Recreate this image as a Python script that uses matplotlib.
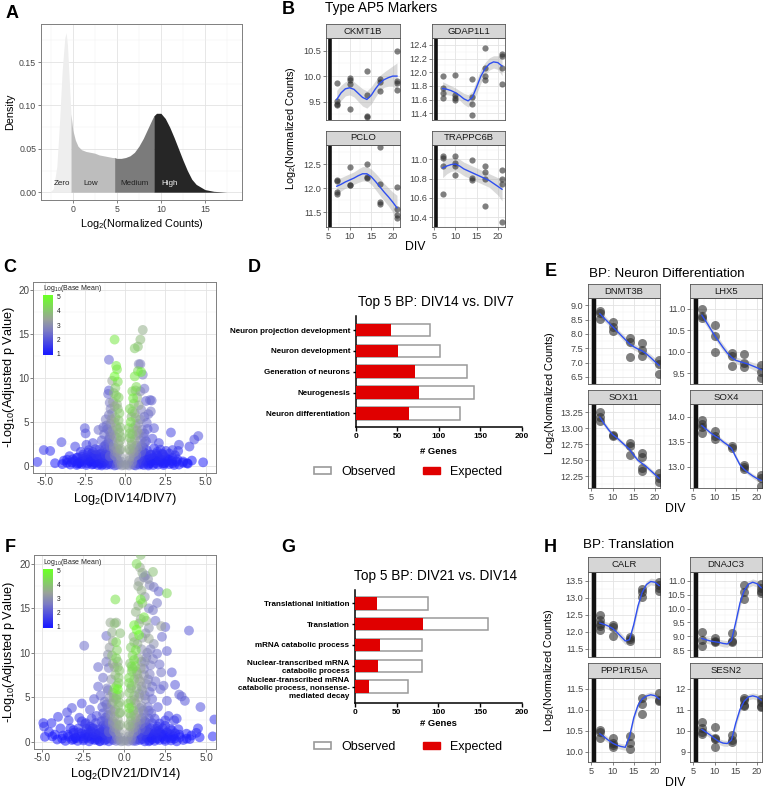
import numpy as np
import matplotlib.pyplot as plt
from matplotlib.colors import LinearSegmentedColormap
from matplotlib.patches import Patch

plt.rcParams['font.family'] = ['Liberation Sans', 'DejaVu Sans']
plt.rcParams['mathtext.default'] = 'regular'

# ---------------- data ----------------
# A: density of log2 normalized counts
dens_x = [-2.6, -2.2, -1.8, -1.5, -1.2, -0.9, -0.75, -0.6, -0.4, -0.2, 0.0, 0.3, 0.6, 1.0, 1.5, 2.0,
          2.5, 3.0, 3.5, 4.0, 4.5, 4.75, 5.0, 5.5, 6.0, 6.5, 7.0, 7.5, 8.0, 8.5, 9.0, 9.2, 9.5, 10.0,
          10.5, 11.0, 11.5, 12.0, 12.5, 13.0, 13.5, 14.0, 15.0, 16.0, 17.5]
dens_y = [0.0, 0.004, 0.03, 0.08, 0.14, 0.178, 0.184, 0.17, 0.13, 0.09, 0.072, 0.06, 0.053, 0.049,
          0.047, 0.046, 0.045, 0.043, 0.042, 0.041, 0.040, 0.040, 0.039, 0.039, 0.040, 0.042, 0.046,
          0.053, 0.062, 0.073, 0.084, 0.088, 0.091, 0.091, 0.085, 0.075, 0.063, 0.050, 0.037, 0.025,
          0.015, 0.009, 0.003, 0.001, 0.0]
bins = ['Zero', 'Low', 'Medium', 'High']
bin_edges = [-2.6, -0.2, 4.75, 9.2, 17.5]

# B / E / H: replicate values at each DIV and the smooth fit
div_days = [7, 10, 14, 17, 21]
fit_div = [7, 8, 9, 10, 11, 12, 13, 14, 15, 16, 17, 18, 19, 20, 21]

ckmt1b_obs = [[9.86, 9.51, 9.45, 9.43], [9.96, 9.92, 9.84, 9.36], [10.11, 9.62, 9.22, 9.20],
              [9.95, 9.89, 9.71], [10.5, 9.90, 9.87, 9.72]]
ckmt1b_fit = [9.54, 9.67, 9.75, 9.77, 9.74, 9.66, 9.58, 9.54, 9.62, 9.75, 9.86, 9.93, 9.97, 10.0, 10.0]
ckmt1b_se = [0.18, 0.15, 0.14, 0.14, 0.15, 0.16, 0.17, 0.17, 0.17, 0.16, 0.15, 0.15, 0.17, 0.2, 0.26]

gdap1l1_obs = [[11.95, 11.77, 11.69, 11.62], [11.96, 11.66, 11.62, 11.59], [11.90, 11.64, 11.53, 11.38],
               [12.36, 12.06, 11.95, 11.88], [12.26, 12.23, 12.06, 11.82]]
gdap1l1_fit = [11.76, 11.75, 11.73, 11.70, 11.66, 11.61, 11.58, 11.63, 11.78, 11.94, 12.05, 12.12, 12.15, 12.14, 12.09]
gdap1l1_se = [0.1, 0.08, 0.07, 0.07, 0.07, 0.08, 0.09, 0.09, 0.1, 0.1, 0.09, 0.09, 0.09, 0.1, 0.14]

pclo_obs = [[12.17, 12.15, 11.91, 11.87], [12.45, 12.07, 12.06], [12.50, 12.24, 12.21],
            [12.85, 12.08, 11.72, 11.67], [12.03, 11.56, 11.44, 11.37]]
pclo_fit = [12.04, 12.08, 12.13, 12.17, 12.21, 12.26, 12.30, 12.30, 12.24, 12.14, 12.03, 11.92, 11.82, 11.71, 11.59]
pclo_se = [0.16, 0.14, 0.13, 0.13, 0.13, 0.14, 0.15, 0.15, 0.16, 0.17, 0.18, 0.18, 0.19, 0.21, 0.26]

trappc6b_obs = [[11.03, 11.01, 10.93, 10.64], [11.03, 10.96, 10.93, 10.84], [10.99, 10.81, 10.79],
                [10.93, 10.87, 10.80, 10.52], [10.89, 10.80, 10.74, 10.35]]
trappc6b_fit = [10.91, 10.93, 10.945, 10.95, 10.93, 10.90, 10.88, 10.86, 10.84, 10.82, 10.80, 10.78, 10.75, 10.72, 10.69]
trappc6b_se = [0.1, 0.08, 0.07, 0.07, 0.07, 0.07, 0.07, 0.07, 0.07, 0.07, 0.07, 0.07, 0.08, 0.09, 0.12]

dnmt3b_obs = [[8.79, 8.72, 8.51], [8.40, 8.23, 8.10], [7.87, 7.71, 7.20], [7.68, 7.42, 7.24], [7.08, 6.94, 6.60]]
dnmt3b_fit = [8.70, 8.55, 8.40, 8.25, 8.10, 7.95, 7.80, 7.65, 7.55, 7.47, 7.40, 7.30, 7.17, 7.03, 6.90]
dnmt3b_se = [0.14, 0.11, 0.1, 0.1, 0.1, 0.1, 0.11, 0.11, 0.11, 0.1, 0.1, 0.1, 0.11, 0.13, 0.17]

lhx5_obs = [[11.0, 10.82, 10.79], [10.62, 10.37, 10.0], [9.98, 9.90, 9.68], [9.95, 9.74, 9.65], [9.70, 9.53, 9.38]]
lhx5_fit = [10.85, 10.70, 10.54, 10.38, 10.24, 10.10, 9.97, 9.87, 9.80, 9.77, 9.74, 9.71, 9.67, 9.63, 9.58]
lhx5_se = [0.11, 0.09, 0.08, 0.08, 0.08, 0.08, 0.08, 0.08, 0.08, 0.08, 0.08, 0.08, 0.08, 0.1, 0.13]

sox11_obs = [[13.25, 13.17, 13.11], [12.90, 12.88], [12.77, 12.73, 12.58], [12.61, 12.55, 12.38, 12.33],
             [12.30, 12.22, 12.16]]
sox11_fit = [13.17, 13.07, 12.98, 12.90, 12.85, 12.79, 12.73, 12.67, 12.58, 12.50, 12.45, 12.40, 12.34, 12.28, 12.22]
sox11_se = [0.05, 0.04, 0.035, 0.035, 0.035, 0.035, 0.035, 0.035, 0.035, 0.035, 0.035, 0.035, 0.035, 0.04, 0.06]

sox4_obs = [[13.93, 13.85, 13.80, 13.68], [13.72, 13.62, 13.56], [13.42, 13.38], [13.04, 13.00, 12.95],
            [12.84, 12.78, 12.62]]
sox4_fit = [13.82, 13.75, 13.68, 13.62, 13.57, 13.50, 13.44, 13.37, 13.20, 13.04, 12.95, 12.88, 12.82, 12.77, 12.73]
sox4_se = [0.06, 0.05, 0.045, 0.045, 0.045, 0.045, 0.045, 0.045, 0.045, 0.045, 0.045, 0.045, 0.045, 0.05, 0.07]

calr_obs = [[12.48, 12.33, 12.22, 12.15, 12.05], [12.18, 12.13, 11.86], [11.85, 11.78, 11.72],
            [13.24, 13.16, 13.02], [13.45, 13.36, 13.28, 13.20]]
calr_fit = [12.25, 12.21, 12.16, 12.09, 11.98, 11.85, 11.72, 11.76, 12.2, 12.75, 13.15, 13.38, 13.47, 13.45, 13.35]
calr_se = [0.12, 0.1, 0.1, 0.1, 0.1, 0.1, 0.1, 0.1, 0.12, 0.12, 0.1, 0.1, 0.1, 0.1, 0.12]

dnajc3_obs = [[9.15, 8.86, 8.65], [8.92, 8.84, 8.78], [9.10, 8.84, 8.80], [10.86, 10.58, 10.35],
              [10.88, 10.75, 10.62, 10.57]]
dnajc3_fit = [8.92, 8.87, 8.83, 8.80, 8.78, 8.74, 8.72, 8.85, 9.5, 10.2, 10.65, 10.88, 10.95, 10.9, 10.75]
dnajc3_se = [0.15, 0.12, 0.12, 0.12, 0.12, 0.12, 0.12, 0.12, 0.15, 0.15, 0.12, 0.12, 0.12, 0.12, 0.15]

ppp1r15a_obs = [[10.51, 10.46, 10.31], [10.32, 10.21, 10.15, 10.11], [10.38, 10.21, 10.05],
                [11.27, 11.14, 10.90], [11.40, 11.22, 11.20]]
ppp1r15a_fit = [10.42, 10.35, 10.27, 10.20, 10.15, 10.12, 10.10, 10.35, 10.80, 11.10, 11.25, 11.32, 11.35, 11.33, 11.25]
ppp1r15a_se = [0.08, 0.07, 0.07, 0.07, 0.07, 0.07, 0.07, 0.08, 0.09, 0.08, 0.07, 0.07, 0.07, 0.07, 0.09]

sesn2_obs = [[10.41, 10.12, 9.94, 9.84], [10.15, 9.66, 9.59, 9.22], [9.78, 9.54, 9.44],
             [11.56, 11.46, 11.21, 11.15], [11.50, 11.37, 11.19, 11.12]]
sesn2_fit = [10.05, 9.92, 9.78, 9.62, 9.48, 9.40, 9.38, 9.55, 10.35, 11.0, 11.40, 11.60, 11.65, 11.60, 11.45]
sesn2_se = [0.17, 0.14, 0.14, 0.14, 0.14, 0.14, 0.14, 0.15, 0.18, 0.16, 0.14, 0.14, 0.14, 0.15, 0.18]

# C: volcano DIV14 vs DIV7 -> (log2 fold change, -log10 padj, log10 base mean)
c_left_tail = [(-5.45, 0.45, 1.3), (-5.05, 1.8, 1.5), (-4.65, 1.7, 1.4), (-4.35, 0.3, 1.1), (-3.95, 2.7, 1.8),
               (-3.8, 0.6, 1.0), (-3.6, 0.7, 1.1), (-3.45, 1.1, 1.2), (-3.3, 0.4, 1.0), (-3.1, 2.2, 1.7),
               (-3.0, 0.9, 1.1), (-2.85, 0.3, 1.0), (-2.75, 1.6, 1.4), (-2.6, 0.8, 1.1), (-2.5, 4.3, 2.0),
               (-2.45, 3.7, 1.9), (-2.4, 2.4, 1.7), (-2.3, 1.5, 1.3), (-2.2, 0.5, 1.0), (-2.1, 1.0, 1.2),
               (-2.0, 2.6, 1.8), (-1.95, 0.2, 1.0), (-1.85, 1.9, 1.6), (-1.75, 0.7, 1.1), (-1.65, 4.1, 2.4),
               (-1.55, 1.3, 1.4), (-1.45, 2.9, 2.1), (-1.4, 0.4, 1.1), (-1.3, 3.6, 2.3), (-1.25, 1.9, 1.7),
               (-1.2, 5.3, 2.6), (-1.15, 4.6, 2.4), (-1.1, 0.8, 1.3), (-1.05, 2.6, 2.0), (-1.0, 1.4, 1.5),
               (-0.95, 3.9, 2.5)]
c_right_tail = [(4.85, 0.4, 1.2), (4.55, 3.4, 1.9), (4.3, 3.0, 1.8), (4.15, 0.6, 1.0), (4.0, 2.2, 1.6),
                (3.85, 0.3, 1.0), (3.6, 0.5, 1.1), (3.35, 2.4, 1.7), (3.3, 1.7, 1.4), (3.1, 1.2, 1.3),
                (2.95, 1.8, 1.5), (2.85, 3.8, 1.8), (2.7, 0.7, 1.1), (2.55, 1.7, 1.4), (2.45, 0.3, 1.0),
                (2.3, 1.4, 1.3), (2.1, 2.6, 1.7), (1.95, 0.6, 1.1), (1.8, 4.3, 2.1), (1.7, 3.1, 1.9),
                (1.6, 1.3, 1.3), (1.55, 7.5, 2.3), (1.65, 7.45, 2.2), (1.6, 6.2, 2.5), (1.45, 5.9, 2.4),
                (1.35, 4.9, 2.3), (1.3, 2.8, 2.0), (1.25, 1.0, 1.2), (1.2, 3.7, 2.2), (1.15, 2.1, 1.7)]
c_band = [(-3.4, 0.15, 1.0), (-3.0, 0.1, 1.0), (-2.7, 0.2, 1.0), (-2.4, 0.1, 1.1), (-2.05, 0.15, 1.0),
          (-1.7, 0.1, 1.1), (-1.4, 0.2, 1.0), (-1.15, 0.1, 1.2), (-0.9, 0.15, 1.3), (-0.65, 0.05, 1.5),
          (0.65, 0.05, 1.5), (0.9, 0.15, 1.2), (1.15, 0.1, 1.1), (1.45, 0.2, 1.0), (1.75, 0.1, 1.0),
          (2.05, 0.15, 1.1), (2.4, 0.1, 1.0), (2.75, 0.2, 1.0), (3.05, 0.1, 1.0), (3.35, 0.15, 1.0),
          (-3.15, 0.55, 1.1), (-2.8, 0.45, 1.0), (-2.5, 0.6, 1.1), (-2.15, 0.5, 1.0), (-1.85, 0.45, 1.1),
          (-1.55, 0.6, 1.2), (-1.3, 0.5, 1.1), (-1.0, 0.45, 1.3), (-0.75, 0.55, 1.6), (0.75, 0.55, 1.6),
          (1.0, 0.45, 1.3), (1.3, 0.55, 1.1), (1.6, 0.5, 1.0), (1.9, 0.6, 1.1), (2.2, 0.5, 1.0),
          (2.55, 0.45, 1.1), (2.9, 0.55, 1.0), (3.2, 0.5, 1.0), (-2.95, 0.95, 1.1), (-2.45, 0.9, 1.2),
          (-2.0, 0.85, 1.1), (-1.7, 1.0, 1.2), (-1.4, 0.9, 1.3), (-1.15, 1.0, 1.4), (-0.85, 0.9, 1.7),
          (0.85, 0.9, 1.7), (1.1, 1.0, 1.3), (1.4, 0.85, 1.2), (1.75, 0.95, 1.1), (2.1, 0.9, 1.2),
          (2.5, 1.0, 1.1), (2.95, 0.9, 1.1), (-2.6, 1.3, 1.3), (-2.1, 1.35, 1.2), (-1.8, 1.25, 1.4),
          (-1.5, 1.4, 1.3), (-1.2, 1.3, 1.6), (-0.9, 1.35, 1.8), (0.95, 1.3, 1.7), (1.3, 1.4, 1.4),
          (1.6, 1.25, 1.3), (1.95, 1.35, 1.2), (2.35, 1.3, 1.2), (2.75, 1.4, 1.1), (-2.25, 1.8, 1.4),
          (-1.6, 1.85, 1.5), (-1.3, 2.2, 1.8), (-0.85, 1.9, 2.0), (0.9, 1.85, 2.0), (1.35, 1.8, 1.6),
          (1.8, 2.0, 1.4), (2.2, 1.85, 1.3)]
c_band2 = [(-3.6, 0.35, 1.0), (-3.25, 0.75, 1.1), (-2.95, 0.25, 1.0), (-2.65, 1.05, 1.2), (-2.35, 0.3, 1.0),
           (-2.25, 0.75, 1.1), (-1.95, 1.15, 1.2), (-1.9, 0.35, 1.0), (-1.6, 0.8, 1.2), (-1.55, 0.25, 1.1),
           (-1.35, 1.1, 1.4), (-1.25, 0.7, 1.2), (-1.05, 0.25, 1.3), (-0.95, 0.7, 1.5), (-0.8, 1.15, 1.7),
           (-0.7, 0.3, 1.7), (0.7, 0.3, 1.7), (0.8, 1.15, 1.8), (0.95, 0.7, 1.5), (1.05, 0.25, 1.3),
           (1.25, 0.75, 1.2), (1.35, 1.1, 1.3), (1.55, 0.3, 1.0), (1.65, 0.8, 1.1), (1.9, 0.3, 1.0),
           (2.0, 1.15, 1.2), (2.25, 0.75, 1.1), (2.35, 0.3, 1.0), (2.65, 0.8, 1.1), (2.95, 0.3, 1.0),
           (3.25, 0.75, 1.1), (3.6, 0.35, 1.0), (-3.9, 0.2, 1.0), (3.9, 0.25, 1.0), (-2.0, 1.6, 1.3),
           (2.0, 1.6, 1.3), (-1.1, 1.65, 1.6), (1.1, 1.65, 1.6), (-1.45, 0.05, 1.1), (1.45, 0.05, 1.1)]
c_core = [(-0.5, 0.1, 2.2), (-0.35, 0.2, 2.6), (-0.2, 0.05, 3.0), (-0.05, 0.1, 3.2), (0.1, 0.15, 3.1),
          (0.25, 0.05, 2.8), (0.4, 0.2, 2.5), (0.55, 0.1, 2.0), (-0.45, 0.6, 2.5), (-0.25, 0.5, 3.0),
          (0.25, 0.6, 3.1), (0.45, 0.5, 2.6), (-0.55, 1.0, 2.6), (-0.3, 1.1, 3.2), (0.3, 1.05, 3.3),
          (0.55, 1.0, 2.7), (-0.6, 1.6, 2.8), (-0.35, 1.8, 3.3), (0.35, 1.7, 3.4), (0.6, 1.6, 2.9),
          (-0.7, 2.3, 2.9), (-0.4, 2.5, 3.5), (0.4, 2.4, 3.6), (0.7, 2.3, 3.0)]
c_left_arm = [(-0.65, 14.4, 4.6), (-1.0, 12.1, 2.2), (-0.55, 11.4, 4.7), (-0.5, 11.0, 4.5), (-0.65, 10.2, 4.9),
              (-0.8, 9.7, 3.4), (-1.0, 8.6, 2.1), (-1.05, 8.2, 2.3), (-0.6, 8.9, 4.1), (-0.55, 8.0, 4.2),
              (-0.75, 7.3, 3.2), (-0.5, 7.0, 3.7), (-0.95, 7.2, 2.6), (-0.45, 6.5, 3.8), (-0.8, 6.0, 2.9),
              (-0.6, 5.5, 3.5), (-0.4, 5.2, 4.0), (-0.9, 4.8, 2.8), (-0.55, 4.5, 3.5), (-0.75, 4.0, 3.0),
              (-0.35, 3.8, 3.8), (-0.95, 3.3, 2.4), (-0.5, 3.2, 3.3), (-0.8, 2.9, 2.6), (-0.3, 2.9, 3.7),
              (-0.65, 6.8, 3.4), (-0.85, 5.3, 3.1), (-0.45, 4.2, 3.6)]
c_right_arm = [(1.1, 15.5, 3.6), (0.95, 14.4, 3.8), (0.6, 13.4, 4.1), (0.8, 13.6, 3.9), (0.85, 11.6, 2.8),
               (0.95, 11.6, 2.6), (0.8, 10.8, 4.3), (1.0, 10.7, 4.8), (1.1, 10.4, 2.6), (0.7, 9.0, 4.4),
               (0.65, 8.6, 3.9), (0.95, 8.5, 2.8), (1.3, 7.4, 2.2), (0.5, 7.7, 4.7), (0.55, 7.1, 4.0),
               (0.85, 6.9, 3.5), (1.0, 6.4, 2.7), (0.45, 6.2, 4.0), (0.65, 5.5, 3.7), (1.2, 5.6, 2.4),
               (0.35, 5.0, 4.5), (0.8, 4.8, 3.0), (0.5, 4.3, 3.6), (1.05, 4.1, 2.5), (0.3, 3.7, 4.1),
               (0.7, 3.5, 3.1), (0.4, 2.8, 3.7), (0.95, 2.9, 2.6), (0.6, 6.0, 3.3), (0.75, 4.0, 3.4)]
c_arm_fill = [(-1.2, 2.4, 2.0), (-1.0, 3.0, 2.3), (-0.9, 2.2, 2.4), (-1.1, 4.2, 2.3), (-0.85, 3.6, 2.7),
              (-0.65, 3.4, 3.1), (-0.7, 2.0, 2.9), (-0.5, 2.0, 3.2), (-0.25, 1.9, 3.6), (-0.45, 1.5, 3.1),
              (-0.65, 1.2, 2.7), (-0.95, 1.1, 2.2), (-0.3, 4.4, 3.9), (-0.65, 5.0, 3.3), (-1.0, 5.8, 2.6),
              (-0.35, 6.0, 4.1), (-0.25, 3.3, 3.9), (0.25, 1.9, 3.7), (0.5, 2.0, 3.2), (0.75, 2.0, 2.9),
              (1.0, 2.3, 2.5), (1.2, 2.6, 2.3), (0.5, 1.5, 3.1), (0.7, 1.2, 2.7), (1.0, 1.6, 2.2),
              (0.3, 3.2, 4.0), (0.6, 3.0, 3.4), (0.85, 3.7, 2.9), (1.15, 3.3, 2.3), (0.45, 3.6, 3.8),
              (0.25, 4.3, 4.2), (0.65, 4.6, 3.3), (0.95, 5.3, 2.8), (0.4, 5.6, 3.8), (0.3, 6.5, 4.3),
              (0.75, 7.8, 3.7), (0.45, 8.5, 4.3), (0.6, 10.2, 4.6), (1.2, 8.8, 2.4), (-0.4, 7.8, 4.2),
              (-0.7, 8.3, 3.6), (-0.45, 9.6, 4.4), (-0.9, 6.5, 2.7), (1.4, 4.2, 2.1), (-1.35, 4.4, 2.2)]

# F: volcano DIV21 vs DIV14
f_left_tail = [(-4.95, 2.1, 1.3), (-4.9, 1.7, 1.4), (-4.85, 0.55, 1.1), (-4.6, 1.1, 1.2), (-4.45, 2.1, 1.3),
               (-4.25, 0.8, 1.0), (-4.05, 2.8, 1.5), (-3.9, 1.5, 1.2), (-3.75, 0.7, 1.0), (-3.5, 3.3, 1.7),
               (-3.4, 2.4, 1.5), (-3.2, 3.8, 1.9), (-3.1, 1.3, 1.2), (-2.95, 0.4, 1.0), (-2.75, 2.7, 1.6),
               (-2.6, 4.3, 1.8), (-2.45, 10.8, 2.4), (-2.35, 2.1, 1.4), (-2.2, 0.6, 1.0), (-2.1, 3.6, 1.9),
               (-1.95, 1.5, 1.3), (-1.85, 4.8, 2.1), (-1.7, 2.9, 1.8), (-1.55, 0.9, 1.2), (-1.45, 5.2, 2.3),
               (-1.35, 3.9, 2.1), (-1.3, 1.8, 1.6), (-1.2, 4.5, 2.4), (-1.1, 11.9, 2.4), (-1.0, 9.8, 3.0),
               (-0.95, 8.3, 2.6), (-1.05, 6.0, 2.6), (-1.15, 2.7, 1.9)]
f_right_tail = [(5.4, 0.6, 1.2), (5.5, 2.5, 1.5), (4.65, 3.9, 1.9), (4.5, 1.5, 1.3), (4.4, 1.0, 1.1),
                (4.1, 0.7, 1.0), (3.95, 12.5, 2.1), (3.8, 0.9, 1.1), (3.7, 4.6, 2.0), (3.5, 5.1, 2.2),
                (3.35, 5.3, 2.2), (3.2, 2.6, 1.6), (3.05, 2.4, 1.6), (2.9, 1.3, 1.3), (2.85, 0.4, 1.0),
                (2.7, 2.9, 1.7), (2.6, 4.6, 2.1), (2.5, 1.8, 1.4), (2.4, 6.3, 2.3), (2.3, 0.8, 1.1),
                (2.25, 7.8, 2.5), (2.2, 5.9, 2.2), (2.15, 8.7, 2.4), (2.05, 3.9, 2.0), (1.95, 1.2, 1.3),
                (1.9, 6.8, 2.4), (1.85, 2.6, 1.7), (1.75, 9.3, 2.6), (1.7, 4.8, 2.2), (1.6, 0.5, 1.1),
                (1.55, 7.6, 2.6), (1.5, 3.5, 2.1), (1.4, 1.6, 1.5)]
f_band = [(-3.6, 0.1, 1.0), (-3.2, 0.2, 1.0), (-2.85, 0.1, 1.1), (-2.5, 0.15, 1.0), (-2.15, 0.05, 1.1),
          (-1.8, 0.2, 1.0), (-1.5, 0.1, 1.2), (-1.2, 0.15, 1.1), (-0.95, 0.05, 1.3), (-0.7, 0.2, 1.6),
          (0.7, 0.1, 1.5), (0.95, 0.2, 1.3), (1.25, 0.05, 1.1), (1.55, 0.15, 1.0), (1.85, 0.1, 1.1),
          (2.15, 0.2, 1.0), (2.5, 0.1, 1.0), (2.85, 0.15, 1.1), (3.2, 0.05, 1.0), (3.6, 0.2, 1.0),
          (-3.4, 0.55, 1.1), (-3.0, 0.5, 1.0), (-2.65, 0.6, 1.1), (-2.3, 0.45, 1.2), (-1.95, 0.55, 1.1),
          (-1.65, 0.5, 1.2), (-1.35, 0.6, 1.2), (-1.05, 0.5, 1.4), (-0.8, 0.6, 1.7), (0.8, 0.55, 1.7),
          (1.05, 0.6, 1.4), (1.35, 0.5, 1.2), (1.65, 0.6, 1.1), (1.95, 0.5, 1.2), (2.3, 0.55, 1.0),
          (2.65, 0.5, 1.1), (3.0, 0.6, 1.0), (3.4, 0.5, 1.1), (-3.1, 1.0, 1.2), (-2.6, 0.95, 1.1),
          (-2.2, 1.05, 1.2), (-1.85, 0.95, 1.3), (-1.5, 1.0, 1.3), (-1.2, 0.95, 1.5), (-0.9, 1.05, 1.8),
          (0.9, 1.0, 1.8), (1.2, 0.95, 1.5), (1.5, 1.05, 1.3), (1.85, 0.95, 1.2), (2.2, 1.0, 1.2),
          (2.6, 1.05, 1.1), (3.1, 0.95, 1.1), (-2.8, 1.5, 1.3), (-2.3, 1.45, 1.3), (-1.9, 1.55, 1.4),
          (-1.55, 1.4, 1.4), (-1.25, 1.5, 1.6), (-0.95, 1.45, 1.9), (0.95, 1.5, 1.9), (1.25, 1.45, 1.6),
          (1.6, 1.55, 1.4), (1.95, 1.45, 1.3), (2.35, 1.5, 1.2), (2.8, 1.45, 1.2), (-2.4, 2.0, 1.5),
          (-1.75, 2.1, 1.6), (-1.4, 2.3, 1.8), (-0.95, 2.1, 2.1), (0.95, 2.0, 2.1), (1.3, 2.2, 1.8),
          (1.7, 2.1, 1.6), (2.15, 2.05, 1.4), (-2.0, 2.6, 1.7), (1.1, 2.7, 2.0)]
f_band2 = [(-3.8, 0.35, 1.0), (-3.45, 0.8, 1.1), (-3.1, 0.3, 1.0), (-2.8, 1.05, 1.2), (-2.5, 0.35, 1.0),
           (-2.4, 0.8, 1.1), (-2.05, 1.2, 1.2), (-2.0, 0.3, 1.0), (-1.7, 0.8, 1.2), (-1.65, 0.25, 1.1),
           (-1.4, 1.15, 1.4), (-1.3, 0.75, 1.2), (-1.1, 0.3, 1.3), (-1.0, 0.75, 1.5), (-0.85, 1.2, 1.7),
           (-0.75, 0.35, 1.7), (0.75, 0.3, 1.7), (0.85, 1.2, 1.8), (1.0, 0.75, 1.5), (1.1, 0.3, 1.3),
           (1.3, 0.8, 1.2), (1.4, 1.15, 1.3), (1.7, 0.3, 1.0), (1.75, 0.8, 1.1), (2.0, 0.35, 1.0),
           (2.1, 1.2, 1.2), (2.4, 0.8, 1.1), (2.45, 0.3, 1.0), (2.8, 0.85, 1.1), (3.05, 0.35, 1.0),
           (3.35, 0.8, 1.1), (3.8, 0.35, 1.0), (-4.1, 0.25, 1.0), (4.0, 0.3, 1.0), (-2.1, 1.7, 1.3),
           (2.05, 1.7, 1.3), (-1.15, 1.75, 1.6), (1.15, 1.75, 1.6), (-1.5, 0.05, 1.1), (1.5, 0.05, 1.1),
           (-4.4, 0.6, 1.0), (4.6, 0.5, 1.0), (-3.3, 1.5, 1.2), (3.3, 1.4, 1.2), (-2.6, 2.3, 1.4),
           (2.5, 2.4, 1.4)]
f_core = [(-0.5, 0.1, 2.3), (-0.35, 0.2, 2.7), (-0.2, 0.05, 3.0), (-0.05, 0.1, 3.2), (0.1, 0.15, 3.1),
          (0.25, 0.05, 2.8), (0.4, 0.2, 2.6), (0.55, 0.1, 2.1), (-0.45, 0.6, 2.6), (-0.25, 0.5, 3.1),
          (0.25, 0.6, 3.1), (0.45, 0.5, 2.7), (-0.55, 1.0, 2.7), (-0.3, 1.1, 3.3), (0.3, 1.05, 3.3),
          (0.55, 1.0, 2.8), (-0.6, 1.6, 2.9), (-0.35, 1.8, 3.4), (0.35, 1.7, 3.5), (0.6, 1.6, 3.0),
          (-0.7, 2.3, 3.0), (-0.4, 2.5, 3.5), (0.4, 2.4, 3.6), (0.7, 2.3, 3.1)]
f_left_arm = [(-0.55, 16.0, 4.5), (-0.5, 13.4, 3.6), (-0.6, 13.3, 3.9), (-0.75, 12.3, 3.6), (-0.7, 11.3, 3.4),
              (-0.5, 11.2, 4.4), (-0.9, 10.6, 3.3), (-0.75, 9.7, 3.8), (-0.5, 9.4, 4.3), (-0.4, 9.0, 3.6),
              (-0.6, 8.4, 3.4), (-0.4, 8.4, 3.9), (-0.55, 7.5, 3.7), (-0.35, 7.2, 4.0), (-0.8, 7.0, 3.1),
              (-0.45, 6.3, 4.2), (-0.4, 5.9, 5.0), (-0.6, 6.0, 4.4), (-0.7, 5.5, 3.5), (-0.3, 5.3, 3.8),
              (-0.9, 5.0, 2.9), (-0.5, 4.8, 3.7), (-0.75, 4.3, 3.2), (-0.35, 4.1, 3.9), (-1.0, 3.8, 2.6),
              (-0.55, 3.6, 3.4), (-0.3, 3.2, 3.7), (-0.85, 3.0, 2.9), (-0.6, 2.8, 3.3), (-0.45, 5.2, 4.1),
              (-0.65, 4.6, 3.6)]
f_right_arm = [(1.0, 21.0, 3.9), (0.75, 20.0, 4.4), (1.1, 19.0, 3.6), (1.75, 19.1, 3.9), (1.3, 18.7, 2.8),
               (1.45, 18.3, 3.1), (1.2, 18.5, 2.6), (0.85, 17.5, 3.5), (0.9, 18.0, 3.3), (1.8, 17.4, 2.5),
               (1.05, 17.0, 3.6), (2.1, 16.9, 2.3), (2.6, 16.7, 4.3), (1.0, 16.0, 4.7), (1.1, 15.6, 4.0),
               (0.85, 15.3, 3.6), (1.5, 15.0, 2.6), (1.75, 14.8, 2.5), (1.2, 14.0, 4.6), (1.35, 13.6, 3.6),
               (1.9, 13.6, 2.4), (2.25, 13.0, 3.4), (2.5, 12.9, 2.2), (0.6, 13.1, 4.7), (0.75, 12.6, 5.0),
               (0.9, 12.0, 4.8), (1.1, 11.7, 3.2), (1.5, 11.6, 3.5), (1.8, 11.0, 3.0), (0.6, 11.2, 3.9),
               (0.4, 10.6, 4.1), (0.7, 10.3, 4.6), (1.05, 10.4, 3.0), (1.4, 10.0, 2.8), (2.0, 9.9, 2.4),
               (0.5, 9.7, 4.2), (0.85, 9.4, 3.5), (1.25, 9.0, 3.0), (0.35, 8.8, 3.9), (0.65, 8.5, 4.3),
               (1.0, 8.3, 3.4), (1.6, 8.6, 2.6), (0.45, 7.9, 4.0), (0.8, 7.6, 3.5), (1.2, 7.5, 3.1),
               (0.3, 7.2, 4.4), (0.6, 7.0, 3.8), (0.95, 6.8, 3.4), (1.35, 6.5, 2.9), (0.45, 6.3, 3.9),
               (0.75, 6.0, 3.6), (1.1, 5.8, 3.2), (0.3, 5.5, 4.0), (0.6, 5.2, 3.7), (0.9, 5.0, 3.3),
               (1.3, 4.8, 2.8), (0.4, 4.6, 3.8), (0.7, 4.3, 3.4), (1.05, 4.0, 3.0), (0.3, 3.8, 4.6),
               (0.55, 3.5, 3.8), (0.85, 3.3, 3.2), (1.2, 3.1, 2.7), (0.4, 2.9, 3.9), (0.7, 2.7, 3.4),
               (1.0, 2.5, 2.9), (0.5, 8.2, 4.4), (0.55, 11.8, 3.7), (0.9, 13.3, 3.8), (1.5, 12.8, 3.0)]
f_arm_fill = [(-1.2, 2.4, 2.0), (-1.0, 3.0, 2.3), (-0.9, 2.2, 2.4), (-1.1, 4.2, 2.3), (-0.85, 3.6, 2.7),
              (-0.65, 3.4, 3.1), (-0.7, 2.0, 2.9), (-0.5, 2.0, 3.2), (-0.25, 1.9, 3.6), (-0.45, 1.5, 3.1),
              (-0.65, 1.2, 2.7), (-0.95, 1.1, 2.2), (-0.3, 4.4, 3.9), (-0.65, 5.0, 3.3), (-1.0, 5.8, 2.6),
              (-0.35, 6.6, 4.1), (-0.25, 3.3, 3.9), (-0.45, 10.3, 4.2), (-0.7, 8.8, 3.5), (0.25, 1.9, 3.7),
              (0.5, 2.0, 3.2), (0.75, 2.0, 2.9), (1.0, 2.0, 2.5), (1.25, 2.3, 2.3), (1.5, 2.6, 2.1),
              (0.5, 1.5, 3.1), (0.7, 1.2, 2.7), (1.0, 1.5, 2.2), (1.3, 1.3, 1.9), (0.3, 3.2, 4.0),
              (0.6, 3.0, 3.4), (0.95, 3.8, 2.9), (1.15, 3.5, 2.6), (1.45, 3.9, 2.4), (1.65, 3.2, 2.2),
              (0.45, 3.9, 3.8), (0.25, 4.3, 4.2), (0.6, 4.7, 3.3), (0.9, 5.4, 2.8), (1.25, 5.2, 2.6),
              (1.55, 5.6, 2.4), (0.4, 6.0, 3.8), (0.3, 6.6, 4.3), (0.75, 7.9, 3.7), (0.45, 8.5, 4.3),
              (0.6, 9.2, 4.6), (1.2, 8.2, 2.6), (1.45, 7.0, 2.7), (1.7, 6.2, 2.4), (1.05, 6.2, 3.0),
              (0.85, 7.1, 3.3), (1.05, 9.0, 2.9), (1.35, 9.5, 2.7), (1.6, 10.4, 2.6), (0.8, 11.0, 3.6),
              (1.3, 12.2, 3.0), (1.0, 13.8, 3.4), (0.7, 14.6, 3.7), (1.25, 16.3, 3.1), (0.95, 19.6, 3.5),
              (1.55, 17.6, 2.8), (2.0, 15.6, 2.5), (2.3, 11.8, 2.3), (2.6, 10.2, 2.2), (2.9, 7.8, 2.1),
              (3.1, 6.4, 2.0), (-1.3, 7.2, 2.4), (-1.6, 8.4, 2.3), (-1.1, 9.0, 2.5), (-1.3, 3.2, 2.1),
              (-1.6, 6.2, 2.2), (-0.3, 8.0, 4.0), (-0.25, 12.2, 3.9), (-0.85, 13.4, 3.5)]

# D / G: GO enrichment
d_terms = ['Neuron projection development', 'Neuron development', 'Generation of neurons',
           'Neurogenesis', 'Neuron differentiation']
d_observed = [89, 101, 134, 142, 126]
d_expected = [43, 51, 71, 76, 64]
g_terms = ['Translational initiation', 'Translation', 'mRNA catabolic process',
           'Nuclear-transcribed mRNA\ncatabolic process',
           'Nuclear-transcribed mRNA\ncatabolic process, nonsense-\nmediated decay']
g_observed = [88, 159, 80, 80, 64]
g_expected = [26, 82, 30, 28, 17]

# ---------------- layout helpers ----------------
W, H = 768, 792
fig = plt.figure(figsize=(W / 100, H / 100), dpi=100)


def box(l, t, r, b):
    return [l / W, 1 - b / H, (r - l) / W, (b - t) / H]


def ftext(x, y, s, **kw):
    fig.text(x / W, 1 - y / H, s, **kw)


def gg_axes(ax):
    ax.set_axisbelow(True)
    ax.grid(which='major', color='#e3e3e3', lw=0.6)
    ax.grid(which='minor', color='#f0f0f0', lw=0.35)
    for s in ax.spines.values():
        s.set_color('#7f7f7f')
        s.set_linewidth(0.7)
    ax.tick_params(which='both', color='#4d4d4d', labelcolor='#444444', width=0.5, length=2, pad=1.5)
    ax.tick_params(which='minor', length=0)


for letter, x, y in [('A', 12, 14), ('B', 288, 10), ('C', 10, 268), ('D', 254, 268), ('E', 551, 272),
                     ('F', 10, 547), ('G', 288, 547), ('H', 550, 547)]:
    ftext(x, y, letter, fontsize=13, fontweight='bold', ha='center', va='center')

# ---------------- A ----------------
ax = fig.add_axes(box(41, 24, 242, 200))
dx, dy = np.array(dens_x), np.array(dens_y)
for lo, hi, col in zip(bin_edges[:-1], bin_edges[1:], ['#eeeeee', '#bdbdbd', '#7b7b7b', '#262626']):
    m = (dx >= lo) & (dx <= hi)
    ax.fill_between(dx[m], 0, dy[m], color=col, lw=0, zorder=2)
ax.set_xlim(-3.6, 19.2)
ax.set_ylim(-0.009, 0.194)
ax.set_xticks([0, 5, 10, 15])
ax.set_xticks([-2.5, 2.5, 7.5, 12.5, 17.5], minor=True)
ax.set_yticks([0, 0.05, 0.10, 0.15], ['0.00', '0.05', '0.10', '0.15'])
ax.set_yticks([0.025, 0.075, 0.125, 0.175], minor=True)
gg_axes(ax)
ax.tick_params(labelsize=6.3)
ax.set_xlabel('Log$_2$(Normalized Counts)', fontsize=7.8, labelpad=2)
ax.set_ylabel('Density', fontsize=7.8, labelpad=3)
for name, xc, col in zip(bins, [-1.2, 2.05, 7.0, 11.0], ['#222222', '#222222', '#222222', '#f2f2f2']):
    ax.text(xc, 0.0095, name, ha='center', va='center', fontsize=5.8, color=col, zorder=3)

# ---------------- facets ----------------


def facet(l, r, st, pt, pb, name, obs, fit, se, ylim, yticks, ylabels, xlim, psize, barw, show_x):
    ax = fig.add_axes(box(l, pt, r, pb))
    ax.set_xlim(*xlim)
    ax.set_ylim(*ylim)
    ax.set_xticks([5, 10, 15, 20])
    ax.set_xticks([7.5, 12.5, 17.5], minor=True)
    ax.set_yticks(yticks, ylabels)
    step = yticks[1] - yticks[0]
    ax.set_yticks([t - step / 2 for t in yticks] + [yticks[-1] + step / 2], minor=True)
    gg_axes(ax)
    for s in ax.spines.values():
        s.set_color('#555555')
        s.set_linewidth(0.6)
    ax.tick_params(labelsize=6.6)
    ax.axvline(5.5, color='#111111', lw=barw, zorder=1.5)
    f, e = np.array(fit), np.array(se)
    ax.fill_between(fit_div, f - e, f + e, color='#a8a8a8', alpha=0.42, lw=0, zorder=2)
    for d, vals in zip(div_days, obs):
        ax.scatter([d] * len(vals), vals, s=psize, color='#2b2b2b', alpha=0.6, lw=0, zorder=3)
    ax.plot(fit_div, fit, color='#2f4ff0', lw=1.0, zorder=4)
    if not show_x:
        ax.tick_params(axis='x', labelbottom=False, length=0)
    sx = fig.add_axes(box(l, st, r, pt))
    sx.set_facecolor('#d6d6d6')
    sx.set_xticks([])
    sx.set_yticks([])
    for s in sx.spines.values():
        s.set_color('#555555')
        s.set_linewidth(0.6)
    sx.text(0.5, 0.5, name, ha='center', va='center', fontsize=6.8, color='#1a1a1a', transform=sx.transAxes)
    return ax


def fmt(ticks, nd):
    return [f'{t:.{nd}f}' for t in ticks]


# B
bl, br = (326, 400), (432, 505)
facet(*bl, 24, 38, 120, 'CKMT1B', ckmt1b_obs, ckmt1b_fit, ckmt1b_se, (9.136, 10.58),
      [9.5, 10.0, 10.5], fmt([9.5, 10.0, 10.5], 1), (4.5, 21.7), 20, 2.6, False)
facet(*br, 24, 38, 120, 'GDAP1L1', gdap1l1_obs, gdap1l1_fit, gdap1l1_se, (11.357, 12.417),
      [11.4, 11.6, 11.8, 12.0, 12.2, 12.4], fmt([11.4, 11.6, 11.8, 12.0, 12.2, 12.4], 1), (4.5, 21.7), 20, 2.6, False)
facet(*bl, 131, 145, 227, 'PCLO', pclo_obs, pclo_fit, pclo_se, (11.19, 12.9),
      [11.5, 12.0, 12.5], fmt([11.5, 12.0, 12.5], 1), (4.5, 21.7), 20, 2.6, True)
facet(*br, 131, 145, 227, 'TRAPPC6B', trappc6b_obs, trappc6b_fit, trappc6b_se, (10.30, 11.147),
      [10.4, 10.6, 10.8, 11.0], fmt([10.4, 10.6, 10.8, 11.0], 1), (4.5, 21.7), 20, 2.6, True)
ftext(325, 8, 'Type AP5 Markers', fontsize=9.9, ha='left', va='center')
ftext(291, 128, 'Log$_2$(Normalized Counts)', fontsize=7.8, rotation=90, ha='center', va='center')
ftext(415, 247, 'DIV', fontsize=8.8, ha='center', va='center')

# E
el, er = (588, 660), (690, 762)
facet(*el, 284, 298, 384, 'DNMT3B', dnmt3b_obs, dnmt3b_fit, dnmt3b_se, (6.46, 9.1),
      [6.5, 7.0, 7.5, 8.0, 8.5, 9.0], fmt([6.5, 7.0, 7.5, 8.0, 8.5, 9.0], 1), (4.2, 21.2), 42, 3.2, False)
facet(*er, 284, 298, 384, 'LHX5', lhx5_obs, lhx5_fit, lhx5_se, (9.31, 11.19),
      [9.5, 10.0, 10.5, 11.0], fmt([9.5, 10.0, 10.5, 11.0], 1), (4.2, 21.2), 42, 3.2, False)
facet(*el, 390, 404, 488, 'SOX11', sox11_obs, sox11_fit, sox11_se, (12.07, 13.35),
      [12.25, 12.5, 12.75, 13.0, 13.25], fmt([12.25, 12.5, 12.75, 13.0, 13.25], 2), (4.2, 21.2), 42, 3.2, True)
facet(*er, 390, 404, 488, 'SOX4', sox4_obs, sox4_fit, sox4_se, (12.58, 14.03),
      [13.0, 13.5, 14.0], fmt([13.0, 13.5, 14.0], 1), (4.2, 21.2), 42, 3.2, True)
ftext(589, 274, 'BP: Neuron Differentiation', fontsize=9.6, ha='left', va='center')
ftext(550, 393, 'Log$_2$(Normalized Counts)', fontsize=7.8, rotation=90, ha='center', va='center')
ftext(675, 509, 'DIV', fontsize=8.8, ha='center', va='center')

# H
facet(*el, 557, 572, 657, 'CALR', calr_obs, calr_fit, calr_se, (11.48, 13.72),
      [11.5, 12.0, 12.5, 13.0, 13.5], fmt([11.5, 12.0, 12.5, 13.0, 13.5], 1), (4.2, 21.2), 42, 3.2, False)
facet(*er, 557, 572, 657, 'DNAJC3', dnajc3_obs, dnajc3_fit, dnajc3_se, (8.48, 11.32),
      [8.5, 9.0, 9.5, 10.0, 10.5, 11.0], fmt([8.5, 9.0, 9.5, 10.0, 10.5, 11.0], 1), (4.2, 21.2), 42, 3.2, False)
facet(*el, 663, 678, 762, 'PPP1R15A', ppp1r15a_obs, ppp1r15a_fit, ppp1r15a_se, (9.95, 11.6),
      [10.0, 10.5, 11.0, 11.5], fmt([10.0, 10.5, 11.0, 11.5], 1), (4.2, 21.2), 42, 3.2, True)
facet(*er, 663, 678, 762, 'SESN2', sesn2_obs, sesn2_fit, sesn2_se, (9.0, 12.12),
      [9, 10, 11, 12], fmt([9, 10, 11, 12], 0), (4.2, 21.2), 42, 3.2, True)
ftext(583, 545, 'BP: Translation', fontsize=9.6, ha='left', va='center')
ftext(549, 670, 'Log$_2$(Normalized Counts)', fontsize=7.8, rotation=90, ha='center', va='center')
ftext(675, 783, 'DIV', fontsize=8.8, ha='center', va='center')

# ---------------- volcanoes ----------------
volc_cmap = LinearSegmentedColormap.from_list(
    'volc', [(0.0, '#1c1cff'), (0.4, '#7c7cc4'), (0.6, '#9aa39a'), (1.0, '#6dff2a')])


def volcano(rect, groups, xlim, xlabel, xlab_y, ylab_y, cb):
    ax = fig.add_axes(box(*rect))
    pts = np.array([p for g in groups for p in g])
    pts = pts[np.argsort(pts[:, 2], kind='stable')]
    ax.scatter(pts[:, 0], pts[:, 1], c=pts[:, 2], cmap=volc_cmap, vmin=1, vmax=5, s=50, alpha=0.55,
               lw=0, zorder=3)
    ax.set_xlim(*xlim)
    ax.set_ylim(-0.85, 21.0)
    ax.set_xticks([-5, -2.5, 0, 2.5, 5], ['-5.0', '-2.5', '0.0', '2.5', '5.0'])
    ax.set_xticks([-3.75, -1.25, 1.25, 3.75], minor=True)
    ax.set_yticks([0, 5, 10, 15, 20])
    ax.set_yticks([2.5, 7.5, 12.5, 17.5], minor=True)
    gg_axes(ax)
    ax.tick_params(labelsize=7.1, pad=1)
    ftext((rect[0] + rect[2]) / 2, xlab_y, xlabel, fontsize=9.2, ha='center', va='center')
    ftext(9, ylab_y, '-Log$_{10}$(Adjusted p Value)', fontsize=9.2, rotation=90, ha='center', va='center')
    cl, ct, cr, cbt = cb
    ftext(cl, ct - 6, 'Log$_{10}$(Base Mean)', fontsize=5.0, ha='left', va='center', color='#222222')
    cax = fig.add_axes(box(cl, ct, cr, cbt))
    cax.imshow(np.linspace(5.1, 0.9, 120)[:, None], aspect='auto', cmap=volc_cmap, vmin=1, vmax=5,
               extent=[0, 1, 0.9, 5.1])
    cax.set_xticks([])
    cax.yaxis.tick_right()
    cax.set_yticks([1, 2, 3, 4, 5])
    cax.tick_params(axis='y', labelsize=4.8, length=1.5, width=0.4, pad=1, color='white', labelcolor='#222222')
    for s in cax.spines.values():
        s.set_visible(False)


volcano((33.3, 281.7, 216, 473.3),
        [c_band, c_band2, c_left_tail, c_right_tail, c_core, c_arm_fill, c_left_arm, c_right_arm],
        (-5.7, 5.65), 'Log$_2$(DIV14/DIV7)', 499, 377, (43, 295, 53, 355))
volcano((34.3, 555, 216, 749.3),
        [f_band, f_band2, f_left_tail, f_right_tail, f_core, f_arm_fill, f_left_arm, f_right_arm],
        (-5.5, 5.6), 'Log$_2$(DIV21/DIV14)', 774, 652, (43, 569, 53, 628))

# ---------------- bar charts ----------------


def go_bars(rect, terms, observed, expected, ylim, title, title_y, xlab_y, leg_y):
    ax = fig.add_axes(box(*rect))
    pos = np.arange(len(terms))
    ax.barh(pos, observed, height=0.6, color='white', edgecolor='#9a9a9a', lw=1.1, zorder=2)
    ax.barh(pos, expected, height=0.6, color='#e00000', lw=0, zorder=3)
    ax.set_ylim(*ylim)
    ax.set_xlim(0, 200)
    ax.set_xticks([0, 50, 100, 150, 200])
    ax.set_yticks(pos, terms)
    for lab in ax.get_yticklabels() + ax.get_xticklabels():
        lab.set_fontweight('bold')
    ax.tick_params(axis='y', labelsize=5.8, length=2.5, width=1, pad=1.5)
    ax.tick_params(axis='x', labelsize=6.0, length=3, width=1, pad=1.5)
    for s in ['top', 'right']:
        ax.spines[s].set_visible(False)
    for s in ['left', 'bottom']:
        ax.spines[s].set_linewidth(1.1)
    cx = (rect[0] + rect[2]) / 2
    ftext(cx - 3, title_y, title, fontsize=9.8, ha='center', va='center')
    ftext(cx, xlab_y, '# Genes', fontsize=6.8, fontweight='bold', ha='center', va='center')
    fig.legend(handles=[Patch(facecolor='white', edgecolor='#9a9a9a', lw=1.2, label='Observed'),
                        Patch(facecolor='#e00000', edgecolor='#e00000', label='Expected')],
               loc='center', bbox_to_anchor=(408 / W, 1 - leg_y / H), ncol=2, frameon=False,
               fontsize=9.0, handlelength=1.4, handleheight=0.55, columnspacing=2.2, handletextpad=0.8,
               borderpad=0)


go_bars((355.7, 315.7, 521.7, 426.7), d_terms, d_observed, d_expected, (4.64, -0.69),
        'Top 5 BP: DIV14 vs. DIV7', 302, 452, 472)
go_bars((355, 590, 521.7, 702.7), g_terms, g_observed, g_expected, (4.77, -0.64),
        'Top 5 BP: DIV21 vs. DIV14', 576, 724, 747)

fig.savefig('out.png', dpi=100)
